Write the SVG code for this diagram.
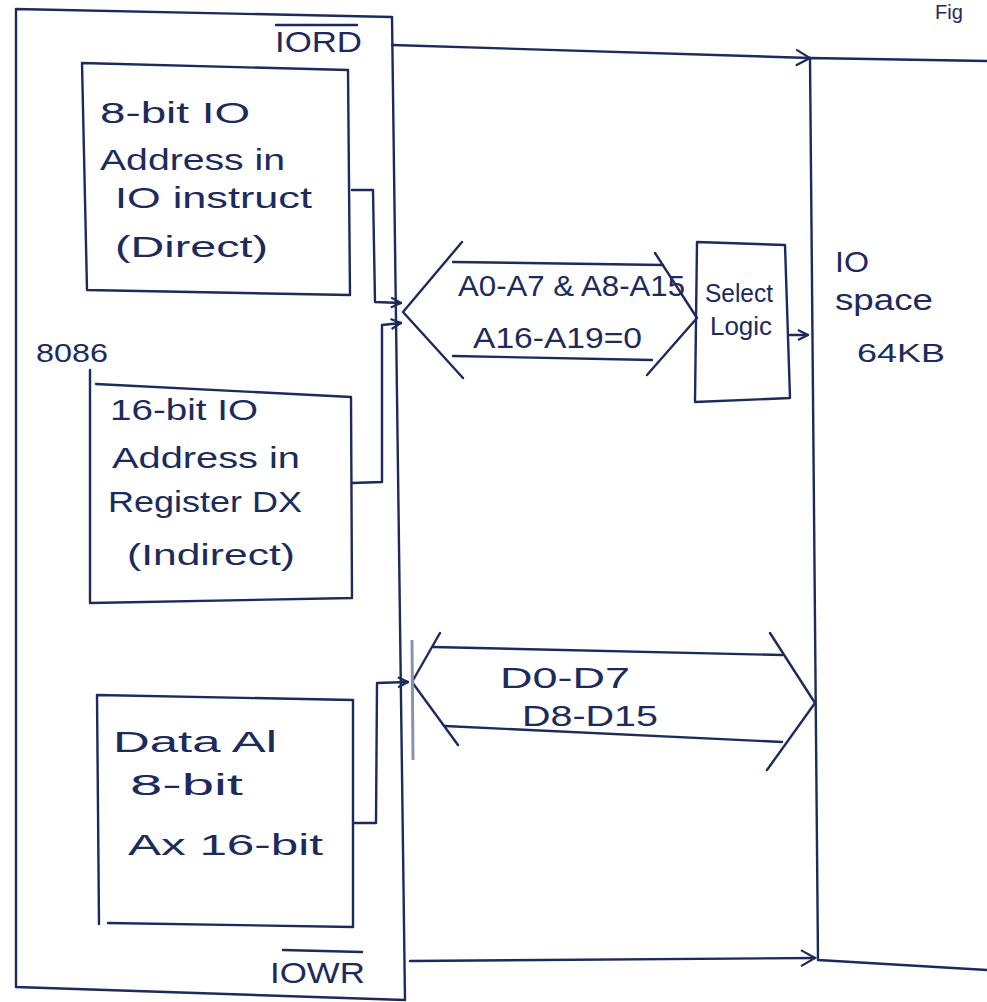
<svg xmlns="http://www.w3.org/2000/svg" width="987" height="1002" viewBox="0 0 987 1002">
<defs>
<style>
.ln{fill:none;stroke:#1c2a5c;stroke-width:2.4;stroke-linecap:round;stroke-linejoin:round}
.t{font-family:"Liberation Sans",Arial,sans-serif;fill:#1c2a5c;font-size:29px}
.s{font-size:25px}
</style>
<marker id="ah" viewBox="0 0 12 12" refX="11" refY="6" markerWidth="12" markerHeight="12" markerUnits="userSpaceOnUse" orient="auto">
<path d="M1,1 L11,6 L1,11" fill="none" stroke="#1c2a5c" stroke-width="2.2"/>
</marker>
<marker id="ahL" viewBox="0 0 20 20" refX="18" refY="10" markerWidth="20" markerHeight="20" markerUnits="userSpaceOnUse" orient="auto">
<path d="M4,2 L18,10 L4,18" fill="none" stroke="#1c2a5c" stroke-width="2.2"/>
</marker>
</defs>
<rect width="987" height="1002" fill="#ffffff"/>

<g id="cpu8086">
<path class="ln" d="M16,9 L392,17 L405,1000 M16,9 L16,987 L405,1000"/>
<text class="t s" x="36" y="362" textLength="72" lengthAdjust="spacingAndGlyphs">8086</text>
</g>

<g id="iord">
<text class="t" x="275" y="52" textLength="87" lengthAdjust="spacingAndGlyphs">IORD</text>
<path class="ln" d="M276,25 L357,25"/>
</g>
<g id="iowr">
<text class="t" x="270" y="983" textLength="95" lengthAdjust="spacingAndGlyphs">IOWR</text>
<path class="ln" d="M283,950 L362,952"/>
</g>

<g id="box-direct">
<path class="ln" d="M82,63 L348,70 L350,295 L87,290 Z"/>
<text class="t" x="100" y="123" textLength="150" lengthAdjust="spacingAndGlyphs">8-bit IO</text>
<text class="t" x="100" y="170" textLength="185" lengthAdjust="spacingAndGlyphs">Address in</text>
<text class="t" x="115" y="208" textLength="197" lengthAdjust="spacingAndGlyphs">IO instruct</text>
<text class="t" x="115" y="257" textLength="153" lengthAdjust="spacingAndGlyphs">(Direct)</text>
</g>

<g id="box-indirect">
<path class="ln" d="M90,370 L90,603 L352,598 L351,397 L96,384"/>
<text class="t" x="110" y="420" textLength="148" lengthAdjust="spacingAndGlyphs">16-bit IO</text>
<text class="t" x="112" y="468" textLength="188" lengthAdjust="spacingAndGlyphs">Address in</text>
<text class="t" x="108" y="512" textLength="194" lengthAdjust="spacingAndGlyphs">Register DX</text>
<text class="t" x="127" y="565" textLength="168" lengthAdjust="spacingAndGlyphs">(Indirect)</text>
</g>

<g id="box-data">
<path class="ln" d="M97,695 L353,700 L353,927 L108,923 M97,695 L99,924"/>
<text class="t" x="113" y="752" textLength="164" lengthAdjust="spacingAndGlyphs">Data Al</text>
<text class="t" x="130" y="795" textLength="113" lengthAdjust="spacingAndGlyphs">8-bit</text>
<text class="t" x="128" y="855" textLength="195" lengthAdjust="spacingAndGlyphs">Ax 16-bit</text>
</g>

<g id="select-logic">
<path class="ln" d="M697,242 L785,245 L790,398 L695,402 Z"/>
<text class="t s" x="705" y="302" textLength="68" lengthAdjust="spacingAndGlyphs">Select</text>
<text class="t s" x="710" y="335" textLength="62" lengthAdjust="spacingAndGlyphs">Logic</text>
</g>

<g id="io-space">
<path class="ln" d="M810,58 L987,61 M810,58 L818,960 L987,970"/>
<text class="t" x="835" y="272" textLength="34" lengthAdjust="spacingAndGlyphs">IO</text>
<text class="t" x="835" y="310" textLength="98" lengthAdjust="spacingAndGlyphs">space</text>
<text class="t s" x="857" y="362" textLength="88" lengthAdjust="spacingAndGlyphs">64KB</text>
</g>

<g id="addr-bus">
<path class="ln" d="M462,242 L403,312 L463,378 M655,253 L697,318 L647,375"/>
<path class="ln" d="M453,262 L663,265 M453,356 L652,360"/>
<text class="t" x="458" y="296" textLength="227" lengthAdjust="spacingAndGlyphs">A0-A7 &amp; A8-A15</text>
<text class="t" x="473" y="348" textLength="169" lengthAdjust="spacingAndGlyphs">A16-A19=0</text>
</g>

<g id="data-bus">
<path class="ln" d="M440,633 L412,682 L458,745 M770,633 L815,703 L767,770"/>
<path class="ln" d="M433,647 L782,655 M445,726 L782,742"/>
<path d="M412,640 L413,760" stroke="#8a93a8" stroke-width="3" fill="none"/>
<text class="t" x="500" y="688" textLength="130" lengthAdjust="spacingAndGlyphs">D0-D7</text>
<text class="t" x="522" y="726" textLength="136" lengthAdjust="spacingAndGlyphs">D8-D15</text>
</g>

<g id="connectors">
<path class="ln" d="M392,45 L810,58" marker-end="url(#ahL)"/>
<path class="ln" d="M410,961 L815,958" marker-end="url(#ahL)"/>
<path class="ln" d="M352,190 L373,190 L375,302 L401,303" marker-end="url(#ah)"/>
<path class="ln" d="M352,483 L382,482 L382,325 L401,323" marker-end="url(#ah)"/>
<path class="ln" d="M353,823 L376,823 L377,683 L408,682" marker-end="url(#ah)"/>
<path class="ln" d="M790,335 L808,335" marker-end="url(#ah)"/>
</g>

<text class="t" x="935" y="19" style="font-size:20px">Fig</text>
</svg>
